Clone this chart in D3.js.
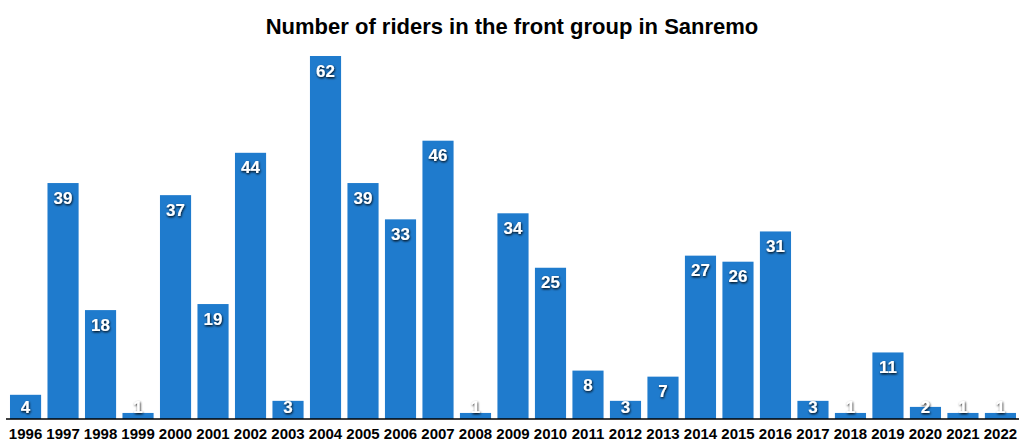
<!DOCTYPE html>
<html><head><meta charset="utf-8">
<script src="https://cdn.jsdelivr.net/npm/d3@7"></script>
<style>body{margin:0;background:#fff}svg{display:block}</style>
</head><body>
<svg id="c" width="1024" height="447"></svg>
<script>
const years = ["1996","1997","1998","1999","2000","2001","2002","2003","2004","2005","2006","2007","2008","2009","2010","2011","2012","2013","2014","2015","2016","2017","2018","2019","2020","2021","2022"];
const riders = [4,39,18,1,37,19,44,3,62,39,33,46,1,34,25,8,3,7,27,26,31,3,1,11,2,1,1];
const yMax = 60;
const title = "Number of riders in the front group in Sanremo";

const svg = d3.select("#c");
const font = "'Liberation Sans', Arial, Helvetica, sans-serif";
const defs = svg.append("defs");
const f = defs.append("filter").attr("id","sh").attr("x","-30%").attr("y","-30%").attr("width","160%").attr("height","160%");
f.append("feDropShadow").attr("dx",0.6).attr("dy",1.2).attr("stdDeviation",0.8).attr("flood-color","#000").attr("flood-opacity",1);

const x = d3.scaleBand().domain(years).range([6.8,1019.2]).paddingInner(0.17).paddingOuter(0.085);
const y = d3.scaleLinear().domain([0,yMax]).range([419,56]).clamp(true);

svg.append("text").attr("x",512).attr("y",34).attr("text-anchor","middle")
  .attr("font-family",font).attr("font-weight","bold").attr("font-size",22).attr("fill","#000").text(title);

const data = years.map((yr,i)=>({yr, v:riders[i]}));
svg.selectAll("rect.bar").data(data).join("rect").attr("class","bar")
  .attr("x",d=>x(d.yr)).attr("width",x.bandwidth())
  .attr("y",d=>y(d.v)).attr("height",d=>y(0)-y(d.v)).attr("fill","#1f7bcd");

svg.selectAll("text.lbl").data(data).join("text").attr("class","lbl")
  .attr("x",d=>x(d.yr)+x.bandwidth()/2)
  .attr("y",d=>Math.min(y(d.v)+20.5,413))
  .attr("text-anchor","middle").attr("font-family",font).attr("font-weight","bold")
  .attr("font-size",17).attr("fill","#fff").attr("filter","url(#sh)").text(d=>d.v);

svg.append("line").attr("x1",6).attr("x2",1019).attr("y1",y(0)).attr("y2",y(0))
  .attr("stroke","#000").attr("stroke-width",1.5);

const ax = svg.append("g").attr("transform",`translate(0,${y(0)})`)
  .call(d3.axisBottom(x).tickSize(0).tickPadding(0));
ax.select(".domain").remove();
ax.selectAll("text").attr("font-family",font).attr("font-weight","bold").attr("font-size",15)
  .attr("fill","#000").attr("dy",null).attr("y",20);
</script>
</body></html>
